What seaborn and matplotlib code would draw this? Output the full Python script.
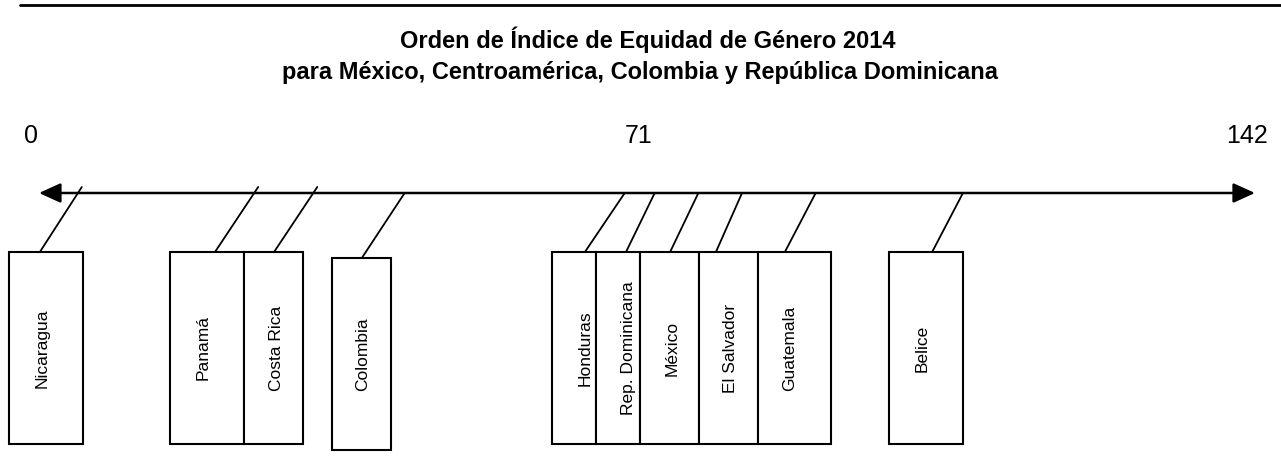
import matplotlib
matplotlib.use('Agg')
import matplotlib.pyplot as plt
import pandas as pd
import seaborn as sns
from matplotlib.lines import Line2D
from matplotlib.patches import Rectangle

# 数据：国家与在 0-142 排名轴上的位置
countries = ['Nicaragua', 'Panamá', 'Costa Rica', 'Colombia', 'Honduras',
             'Rep. Dominicana', 'México', 'El Salvador', 'Guatemala', 'Belice']
rank_pos = [5.0, 25.6, 32.5, 42.7, 68.4, 71.9, 77.0, 82.1, 90.7, 107.9]
tick_values = [0, 71, 142]
tick_labels = ['0', '71', '142']
title_lines = ['Orden de Índice de Equidad de Género 2014',
               'para México, Centroamérica, Colombia y República Dominicana']

# 版面：方框位置（x 为排名单位，y 为像素）
box_left = [-3.5, 15.3, 23.9, 34.2, 59.9, 65.05, 70.2, 77.1, 84.0, 99.3]
box_right = [5.15, 23.9, 30.8, 41.1, 65.05, 70.2, 77.1, 84.0, 92.5, 107.9]
box_top = [252, 252, 252, 258, 252, 252, 252, 252, 252, 252]
box_height = 192
foot_x = [0.1, 20.55, 27.45, 37.7, 63.75, 68.55, 73.7, 79.05, 87.1, 104.3]
lead_top = [187, 187, 187, 193, 193, 193, 193, 193, 193, 193]
label_x = [0.35, 19.15, 27.7, 37.85, 63.75, 68.8, 73.9, 80.8, 87.7, 103.1]
axis_y = 193


def build_leaders():
    rows = []
    for i, name in enumerate(countries):
        rows.append({'country': name, 'x': rank_pos[i], 'y': lead_top[i]})
        rows.append({'country': name, 'x': foot_x[i], 'y': box_top[i]})
    return pd.DataFrame(rows)


def draw():
    sns.set_theme(style='white')
    plt.rcParams['font.family'] = ['Liberation Sans', 'DejaVu Sans']
    plt.rcParams['text.color'] = 'black'

    fig = plt.figure(figsize=(12.81, 4.69), dpi=100)
    ax = fig.add_axes([0, 0, 1, 1])

    # 顶部横线
    fig.add_artist(Line2D([20 / 1281, 1], [1 - 5 / 469] * 2, transform=fig.transFigure,
                          color='black', linewidth=2))

    # 标题
    fig.text(0.506, 1 - 48 / 469, title_lines[0], ha='center', va='baseline',
             fontsize=17, fontweight='bold')
    fig.text(0.5, 1 - 79 / 469, title_lines[1], ha='center', va='baseline',
             fontsize=17, fontweight='bold')

    # 刻度数字
    for v, lab in zip(tick_values, tick_labels):
        ax.annotate(lab, (v, 143), xytext=(-6, 0), textcoords='offset points',
                    ha='center', va='baseline', fontsize=18)

    # 双向箭头轴
    ax.annotate('', xy=(tick_values[0], axis_y), xytext=(tick_values[-1], axis_y),
                arrowprops=dict(arrowstyle='<|-|>,head_length=1.1,head_width=0.5',
                                color='black', linewidth=1.8, shrinkA=0, shrinkB=0))

    # 引线
    df_leaders = build_leaders()
    sns.lineplot(data=df_leaders, x='x', y='y', units='country', estimator=None,
                 sort=False, color='black', linewidth=1.3, ax=ax, legend=False)
    ax.set_xlim(-4.554, 145.04)
    ax.set_ylim(469, 0)
    ax.axis('off')

    # 方框与国家名
    for i, name in enumerate(countries):
        ax.add_patch(Rectangle((box_left[i], box_top[i]), box_right[i] - box_left[i], box_height,
                               facecolor='white', edgecolor='black', linewidth=1.5, zorder=3))
        ax.text(label_x[i], box_top[i] + box_height / 2, name, rotation=90,
                ha='center', va='center', fontsize=12.5, zorder=4)

    fig.savefig('out.png', dpi=100)


if __name__ == '__main__':
    draw()
